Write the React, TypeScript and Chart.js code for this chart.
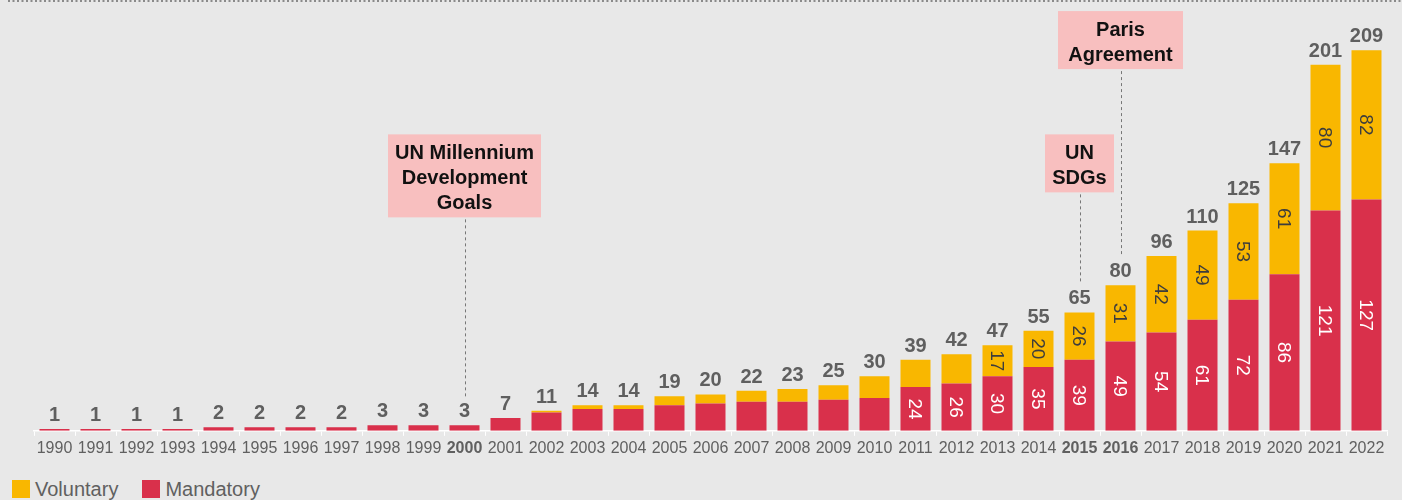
import React, { useEffect, useRef } from 'react';
import { Chart, registerables } from 'chart.js';

Chart.register(...registerables);

const FONT = '"Liberation Sans", Arial, Helvetica, sans-serif';

const years = [
  '1990', '1991', '1992', '1993', '1994', '1995', '1996', '1997', '1998', '1999', '2000',
  '2001', '2002', '2003', '2004', '2005', '2006', '2007', '2008', '2009', '2010',
  '2011', '2012', '2013', '2014', '2015', '2016', '2017', '2018', '2019', '2020', '2021', '2022',
];
const mandatory = [1, 1, 1, 1, 2, 2, 2, 2, 3, 3, 3, 7, 10, 12, 12, 14, 15, 16, 16, 17, 18, 24, 26, 30, 35, 39, 49, 54, 61, 72, 86, 121, 127];
const voluntary = [0, 0, 0, 0, 0, 0, 0, 0, 0, 0, 0, 0, 1, 2, 2, 5, 5, 6, 7, 8, 12, 15, 16, 17, 20, 26, 31, 42, 49, 53, 61, 80, 82];
const totals = [1, 1, 1, 1, 2, 2, 2, 2, 3, 3, 3, 7, 11, 14, 14, 19, 20, 22, 23, 25, 30, 39, 42, 47, 55, 65, 80, 96, 110, 125, 147, 201, 209];
const boldYears = ['2000', '2015', '2016'];

const seriesNames = ['Mandatory', 'Voluntary'];
const legendOrder = ['Voluntary', 'Mandatory'];

const annotationYears = ['2000', '2015', '2016'];
const annotationTexts = [['UN Millennium', 'Development', 'Goals'], ['UN', 'SDGs'], ['Paris', 'Agreement']];
const annotationTopValues = [162.8, 162.8, 230.5];

const COLORS: Record<string, string> = { Mandatory: '#D9304B', Voluntary: '#F9B700' };
const INSIDE_TEXT: Record<string, string> = { Mandatory: '#ffffff', Voluntary: '#3d3d3d' };
const INSIDE_MIN: Record<string, number> = { Mandatory: 20, Voluntary: 17 };
const annotationWidths = [153, 69, 125];

const overlayPlugin = {
  id: 'overlay',
  beforeDraw(chart: any) {
    const ctx = chart.ctx;
    ctx.save();
    ctx.strokeStyle = '#8a8a8a';
    ctx.lineWidth = 2;
    ctx.setLineDash([2, 2.5]);
    ctx.beginPath();
    ctx.moveTo(8, 1);
    ctx.lineTo(chart.width, 1);
    ctx.stroke();
    ctx.restore();
  },
  afterDatasetsDraw(chart: any) {
    const ctx = chart.ctx;
    const xScale = chart.scales.x;
    const yScale = chart.scales.y;
    ctx.save();
    // inside labels
    chart.data.datasets.forEach((ds: any, di: number) => {
      const meta = chart.getDatasetMeta(di);
      meta.data.forEach((bar: any, i: number) => {
        const v = ds.data[i];
        if (v < INSIDE_MIN[ds.label]) return;
        const { x, y, base } = bar.getProps(['x', 'y', 'base'], true);
        ctx.save();
        ctx.translate(x, (y + base) / 2);
        ctx.rotate(Math.PI / 2);
        ctx.textAlign = 'center';
        ctx.textBaseline = 'middle';
        ctx.fillStyle = INSIDE_TEXT[ds.label];
        ctx.font = `19px ${FONT}`;
        ctx.fillText(String(v), 0, 1);
        ctx.restore();
      });
    });
    // totals
    ctx.font = `bold 20px ${FONT}`;
    ctx.fillStyle = '#5f5f5f';
    ctx.textAlign = 'center';
    ctx.textBaseline = 'alphabetic';
    totals.forEach((t, i) => {
      const x = xScale.getPixelForValue(i);
      const top = yScale.getPixelForValue(t);
      ctx.fillText(String(t), x, top - 8);
    });
    // annotations
    annotationYears.forEach((yr, k) => {
      const idx = years.indexOf(yr);
      const x = xScale.getPixelForValue(idx);
      const top = yScale.getPixelForValue(annotationTopValues[k]);
      const lines = annotationTexts[k];
      const h = lines.length * 25 + 8;
      const w = annotationWidths[k];
      ctx.fillStyle = '#F8BFBF';
      ctx.fillRect(x - w / 2, top, w, h);
      ctx.fillStyle = '#111111';
      ctx.font = `bold 20px ${FONT}`;
      ctx.textAlign = 'center';
      ctx.textBaseline = 'alphabetic';
      lines.forEach((ln, j) => ctx.fillText(ln, x, top + 25 + j * 25));
      const barTop = yScale.getPixelForValue(totals[idx]);
      ctx.save();
      ctx.strokeStyle = '#777777';
      ctx.lineWidth = 1;
      ctx.setLineDash([3, 3]);
      ctx.beginPath();
      ctx.moveTo(Math.round(x) + 0.5, top + h + 2);
      ctx.lineTo(Math.round(x) + 0.5, barTop - 29);
      ctx.stroke();
      ctx.restore();
    });
    ctx.restore();
  },
};

export default function App() {
  const ref = useRef<HTMLCanvasElement | null>(null);

  useEffect(() => {
    document.body.style.margin = '0';
    document.body.style.background = '#e8e8e8';
    const canvas = ref.current;
    if (!canvas) return;
    const dataMap: Record<string, number[]> = { Mandatory: mandatory, Voluntary: voluntary };
    const chart = new Chart(canvas, {
      type: 'bar',
      data: {
        labels: years,
        datasets: seriesNames.map((name) => ({
          label: name,
          data: dataMap[name],
          backgroundColor: COLORS[name],
          borderWidth: 0,
          barPercentage: 0.732,
          categoryPercentage: 1,
        })),
      },
      options: {
        responsive: false,
        animation: false,
        layout: { padding: { left: 34, right: 15, top: 12, bottom: 8 } },
        plugins: {
          legend: { display: false },
          tooltip: { enabled: false },
        },
        scales: {
          x: {
            stacked: true,
            offset: true,
            grid: {
              offset: true,
              drawOnChartArea: false,
              drawTicks: true,
              tickLength: 5,
              color: '#ffffff',
              lineWidth: 1,
            },
            border: { display: true, color: '#ffffff', width: 1.5 },
            ticks: {
              autoSkip: false,
              maxRotation: 0,
              padding: 3.5,
              color: '#606060',
              font: (c: any) => ({
                family: FONT,
                size: 16,
                weight: boldYears.includes(years[c.index]) ? 'bold' : 'normal',
              }),
            },
          },
          y: {
            stacked: true,
            display: false,
            min: 0,
            max: 230,
          },
        },
      },
      plugins: [overlayPlugin],
    });
    return () => chart.destroy();
  }, []);

  return (
    <div style={{ position: 'absolute', left: 0, top: 0, width: 1402, height: 500, background: '#e8e8e8', fontFamily: FONT }}>
      <canvas ref={ref} width={1402} height={470} style={{ position: 'absolute', left: 0, top: 0, width: 1402, height: 470 }} />
      <div style={{ position: 'absolute', left: 12, top: 480, height: 18, display: 'flex', alignItems: 'center' }}>
        {legendOrder.map((name) => (
          <div key={name} style={{ display: 'flex', alignItems: 'center', marginRight: 24 }}>
            <span style={{ display: 'inline-block', width: 18, height: 18, background: COLORS[name], marginRight: 5 }} />
            <span style={{ fontSize: 20, lineHeight: '20px', color: '#606060' }}>{name}</span>
          </div>
        ))}
      </div>
    </div>
  );
}
